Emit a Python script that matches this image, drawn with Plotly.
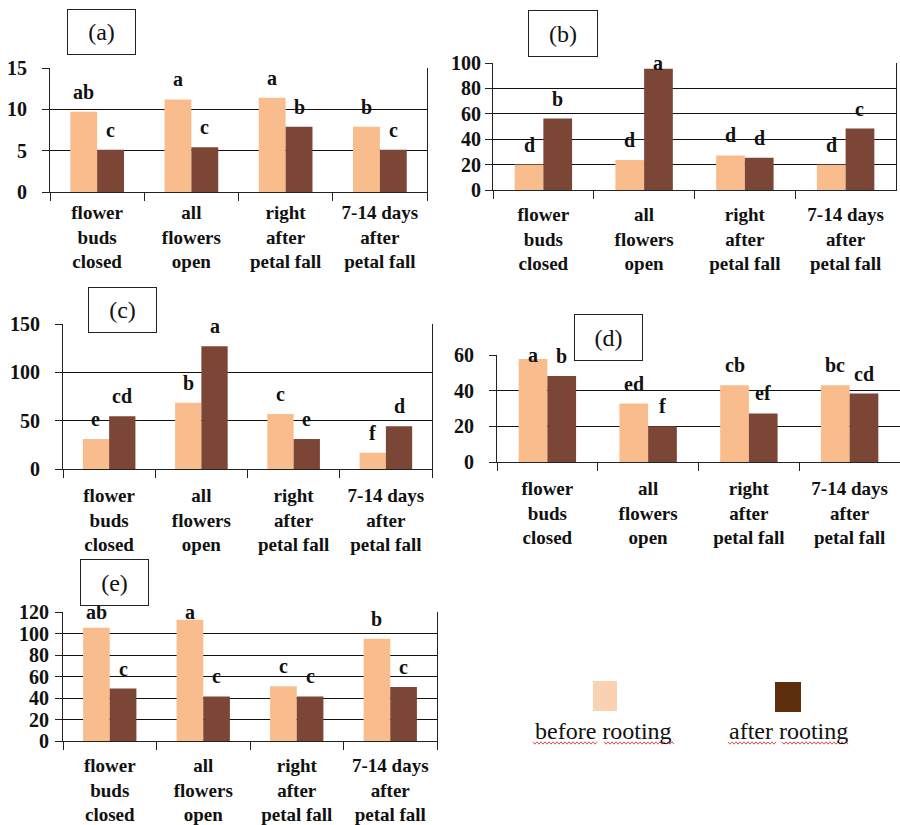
import plotly.graph_objects as go

W, H = 900, 825

# Growth stages (x categories shared by every panel)
STAGES = [
    "flower<br>buds<br>closed",
    "all<br>flowers<br>open",
    "right<br>after<br>petal fall",
    "7-14 days<br>after<br>petal fall",
]

# (a)
before_a = [9.7, 11.2, 11.4, 7.9]
after_a = [5.1, 5.4, 7.9, 5.1]
letters_before_a = ["ab", "a", "a", "b"]
letters_after_a = ["c", "c", "b", "c"]

# (b)
before_b = [20.0, 23.6, 27.2, 19.9]
after_b = [56.3, 95.5, 25.4, 48.4]
letters_before_b = ["d", "d", "d", "d"]
letters_after_b = ["b", "a", "d", "c"]

# (c)
before_c = [31.0, 68.6, 56.9, 16.9]
after_c = [54.5, 126.9, 31.0, 44.1]
letters_before_c = ["e", "b", "c", "f"]
letters_after_c = ["cd", "a", "e", "d"]

# (d)
before_d = [57.8, 32.8, 43.1, 43.1]
after_d = [48.2, 20.1, 27.2, 38.4]
letters_before_d = ["a", "ed", "cb", "bc"]
letters_after_d = ["b", "f", "ef", "cd"]

# (e)
before_e = [105.4, 112.9, 50.9, 95.2]
after_e = [48.8, 41.5, 41.5, 50.2]
letters_before_e = ["ab", "a", "c", "b"]
letters_after_e = ["c", "c", "c", "c"]

SERIES_NAMES = ["before rooting", "after rooting"]

BAR_LIGHT = "#F9BD8D"
BAR_DARK = "#7B4636"
KEY_LIGHT = "#FAD2B1"
KEY_DARK = "#5C2E0B"
SERIF = "Liberation Serif, Times New Roman, serif"
BARGAP = 0.43
LETTER_GAP_PX = 20

# panel tag, data, y range, tick step, plot box (px: left, right, top, bottom),
# tag box (px: left, right, top, bottom), y / x tick label standoff
panels = [
    ("(a)", before_a, after_a, letters_before_a, letters_after_a, 15, 5,
     (50, 427, 68, 192), (67, 136, 9, 55), 11, 3),
    ("(b)", before_b, after_b, letters_before_b, letters_after_b, 100, 20,
     (493, 896, 63, 190), (528, 598, 10, 57), 0, 7),
    ("(c)", before_c, after_c, letters_before_c, letters_after_c, 150, 50,
     (63, 432, 324, 469), (88, 157, 287, 333), 11, 9),
    ("(d)", before_d, after_d, letters_before_d, letters_after_d, 60, 20,
     (497, 900, 355, 462), (574, 643, 314, 361), 11, 9),
    ("(e)", before_e, after_e, letters_before_e, letters_after_e, 120, 20,
     (63, 437, 612, 741), (80, 149, 559, 606), 2, 7),
]


def px_x(x):
    return x / W


def px_y(y):
    return 1 - y / H


fig = go.Figure()
annotations = []
shapes = []

for i, (tag, before, after, lb, la, ymax, dtick, box, tagbox, ystand, xstand) in enumerate(panels, start=1):
    sx = "" if i == 1 else str(i)
    xa, ya = "x" + sx, "y" + sx
    x0, x1, yt, yb = box

    fig.add_bar(x=STAGES, y=before, name=SERIES_NAMES[0], marker_color=BAR_LIGHT,
                marker_line_width=0, xaxis=xa, yaxis=ya, showlegend=False)
    fig.add_bar(x=STAGES, y=after, name=SERIES_NAMES[1], marker_color=BAR_DARK,
                marker_line_width=0, xaxis=xa, yaxis=ya, showlegend=False)

    fig.layout["xaxis" + sx] = dict(
        domain=[px_x(x0), px_x(x1)], anchor=ya, type="category", automargin=False,
        showline=True, linecolor="#222", linewidth=1,
        ticks="outside", tickson="boundaries", ticklen=8, tickcolor="#222",
        ticklabelstandoff=xstand,
        tickfont=dict(family=SERIF, size=19, color="#111", weight="bold"),
        showgrid=False, fixedrange=True,
    )
    fig.layout["yaxis" + sx] = dict(
        domain=[px_y(yb), px_y(yt)], anchor=xa, range=[0, ymax], dtick=dtick,
        automargin=False,
        showgrid=True, gridcolor="#111", gridwidth=1, zeroline=False,
        showline=True, mirror=True, linecolor="#222", linewidth=1,
        ticks="outside", ticklen=7, tickcolor="#222",
        ticklabelstandoff=ystand,
        tickfont=dict(family=SERIF, size=20, color="#111", weight="bold"),
        fixedrange=True,
    )

    # significance letters above each bar
    cat_w = (x1 - x0) / len(STAGES)
    bar_w = (1 - BARGAP) * cat_w / 2
    unit_per_px = ymax / (yb - yt)
    for stage, vb, va, tb, ta in zip(STAGES, before, after, lb, la):
        for val, txt, sh in ((vb, tb, -bar_w / 2), (va, ta, bar_w / 2)):
            annotations.append(dict(
                x=stage, y=min(val + LETTER_GAP_PX * unit_per_px, ymax),
                xref=xa, yref=ya, xshift=sh, text=txt, showarrow=False,
                yanchor="middle", xanchor="center",
                font=dict(family=SERIF, size=20, color="#111", weight="bold"),
            ))

    # boxed panel tag
    bl, br, bt, bb = tagbox
    annotations.append(dict(
        x=px_x((bl + br) / 2), y=px_y((bt + bb) / 2), xref="paper", yref="paper",
        text=tag, showarrow=False, xanchor="center", yanchor="middle",
        width=br - bl - 2, height=bb - bt - 2, borderpad=0,
        bgcolor="white", bordercolor="#222", borderwidth=1,
        font=dict(family=SERIF, size=24, color="#111"),
    ))

# key: colour swatches with captions beneath
key = [
    (SERIES_NAMES[0], KEY_LIGHT, (593, 617, 681, 711), 603, [(533, 597), (604, 674)]),
    (SERIES_NAMES[1], KEY_DARK, (775, 801, 682, 712), 788, [(728, 777), (782, 849)]),
]
for name, color, (l, r, t, b), cx, words in key:
    shapes.append(dict(type="rect", xref="paper", yref="paper",
                       x0=px_x(l), x1=px_x(r), y0=px_y(b), y1=px_y(t),
                       fillcolor=color, line_width=0))
    annotations.append(dict(
        x=px_x(cx), y=px_y(731), xref="paper", yref="paper", text=name,
        showarrow=False, xanchor="center", yanchor="middle",
        font=dict(family=SERIF, size=24, color="#111"),
    ))
    # wavy spell-check underline under each word
    for wl, wr in words:
        pts = []
        x = wl
        k = 0
        while x <= wr:
            yy = 743 + (1.2 if k % 2 else -1.2)
            pts.append(f"{px_x(x):.5f},{px_y(yy):.5f}")
            x += 2
            k += 1
        shapes.append(dict(type="path", xref="paper", yref="paper",
                           path="M" + " L".join(pts),
                           line=dict(color="#D9534F", width=1)))

fig.update_layout(
    width=W, height=H, margin=dict(l=0, r=0, t=0, b=0, autoexpand=False),
    paper_bgcolor="white", plot_bgcolor="white",
    barmode="group", bargap=BARGAP, bargroupgap=0,
    annotations=annotations, shapes=shapes, showlegend=False,
)

fig.write_html("out.html")
